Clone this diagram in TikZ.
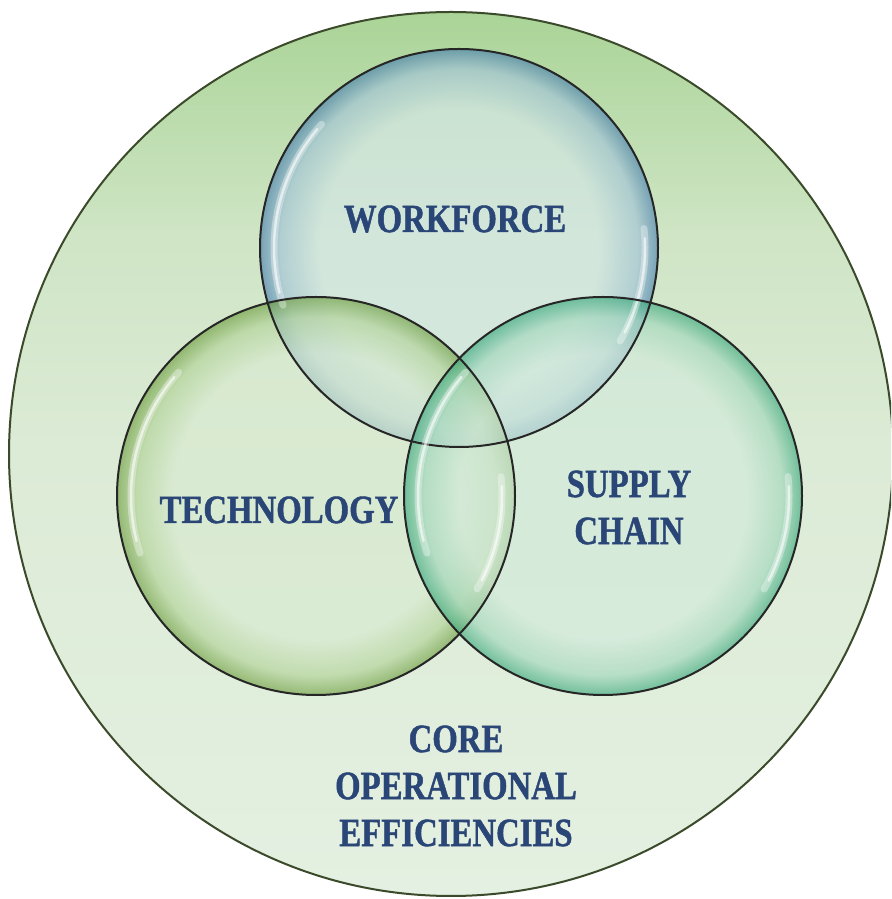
\documentclass[tikz,border=0pt]{standalone}
\usepackage{fontspec}
\setmainfont{Liberation Serif}[FakeStretch=0.82, BoldFeatures={FakeBold=1.1}]
\usetikzlibrary{
	calc
}

\definecolor{labelblue}{HTML}{2A4677}
\definecolor{ringline}{HTML}{262626}
\definecolor{coreline}{HTML}{3A4A2A}
\definecolor{coretop}{HTML}{AAD497}
\definecolor{coreupper}{HTML}{CFE5C5}
\definecolor{coremid}{HTML}{DCEBD6}
\definecolor{corebottom}{HTML}{E4F0E1}
\definecolor{workin}{HTML}{D4E7E6}
\definecolor{workmid}{HTML}{A2C3D8}
\definecolor{workout}{HTML}{4A80AE}
\definecolor{techin}{HTML}{D8EAD0}
\definecolor{techmid}{HTML}{B2D398}
\definecolor{techout}{HTML}{6E9E40}
\definecolor{supplyin}{HTML}{D2EADB}
\definecolor{supplymid}{HTML}{A2D7BC}
\definecolor{supplyout}{HTML}{3AA87C}

% the path box is the inner 50bp square, so 25bp is the rim
\pgfdeclareradialshading{workrim}{\pgfpoint{0bp}{0bp}}{color(0bp)=(workin); color(17.5bp)=(workin); color(22.5bp)=(workmid); color(25bp)=(workout); color(50bp)=(workout)}
\pgfdeclareradialshading{techrim}{\pgfpoint{0bp}{0bp}}{color(0bp)=(techin); color(18bp)=(techin); color(22.5bp)=(techmid); color(25bp)=(techout); color(50bp)=(techout)}
\pgfdeclareradialshading{supplyrim}{\pgfpoint{0bp}{0bp}}{color(0bp)=(supplyin); color(18bp)=(supplyin); color(22.5bp)=(supplymid); color(25bp)=(supplyout); color(50bp)=(supplyout)}
\pgfdeclareverticalshading{corefade}{100bp}{color(0bp)=(corebottom); color(25bp)=(corebottom); color(50bp)=(coremid); color(62.5bp)=(coreupper); color(75bp)=(coretop); color(100bp)=(coretop)}

\begin{document}
\begin{tikzpicture}[
	x=1pt, y=1pt,
	bubble/.style = {
		circle,
		minimum size=398pt,
		inner sep=0pt,
		shade,
		fill opacity=0.66
	},
	rim/.style = {
		draw=ringline,
		line width=2pt
	},
	gloss/.style = {
		white,
		line cap=round,
		draw opacity=0.35,
		line width=7pt
	},
	glint/.style = {
		white,
		line cap=round,
		draw opacity=0.6,
		line width=2.5pt
	},
	caption/.style = {
		text=labelblue,
		font=\fontsize{40}{47}\selectfont\bfseries,
		align=center,
		inner sep=0pt
	},
]
	\useasboundingbox (0,0) rectangle (891,899);

	% outer circle
	\begin{scope}
		\clip (0,0) rectangle (891,899);
		\node (core) [circle, draw=coreline, line width=2pt, minimum size=884pt, inner sep=0pt,
			shade, shading=corefade] at (451,445) {};
	\end{scope}

	\node (work) [bubble, shading=workrim] at (459,651) {};
	\node (tech) [bubble, shading=techrim] at (316,403) {};
	\node (supply) [bubble, shading=supplyrim] at (603,403) {};

	% highlights and outlines
	\foreach \b in {work, tech, supply} {
		\draw[gloss] ($(\b.center)+(138:185pt)$) arc (138:198:185pt);
		\draw[glint] ($(\b.center)+(140:185pt)$) arc (140:194:185pt);
		\draw[gloss] ($(\b.center)+(-30:186pt)$) arc (-30:6:186pt);
		\draw[glint] ($(\b.center)+(-27:186pt)$) arc (-27:3:186pt);
		\draw[rim] (\b.center) circle (199pt);
	}

	\node (worklbl) [caption, anchor=base] at (455,667) {WORKFORCE};
	\node (techlbl) [caption, anchor=base] at (279,376) {TECHNOLOGY};
	\node (supplylbl) [caption] at (629,391.5) {SUPPLY\\CHAIN};
	\node (corelbl) [caption] at (456,113) {CORE\\OPERATIONAL\\EFFICIENCIES};
\end{tikzpicture}
\end{document}
